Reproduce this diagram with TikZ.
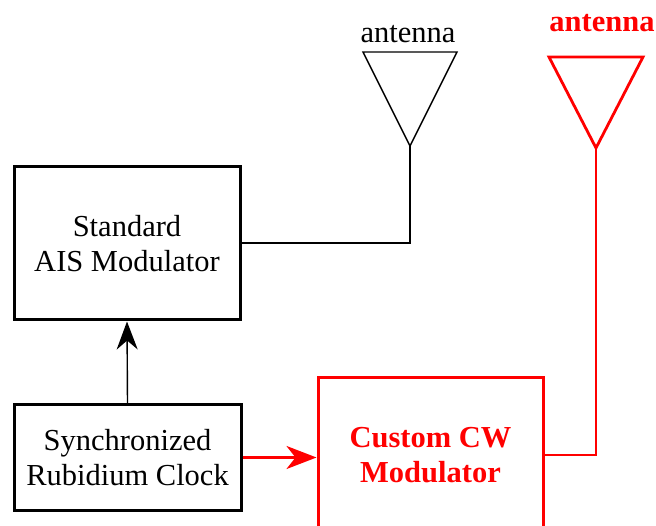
\documentclass[tikz,border=0pt]{standalone}
\usepackage{fontspec}
\setmainfont{Liberation Serif}
\usetikzlibrary{arrows.meta}
\definecolor{rd}{RGB}{255,0,0}
\begin{document}
\begin{tikzpicture}[x=1pt,y=-1pt,
  txt/.style={font=\fontsize{30.5}{35}\selectfont, align=center},
  blk/.style={txt, draw=black, line width=3pt, inner sep=0pt},
  redblk/.style={txt, draw=rd, text=rd, line width=3pt, inner sep=0pt, font=\fontsize{30.5}{35}\selectfont\bfseries},
  thinline/.style={draw=black, line width=1.4pt},
  redline/.style={draw=rd, line width=2.8pt},
  antlabel/.style={txt, anchor=base, inner sep=0pt}]
\useasboundingbox (0,0) rectangle (656,526);
\clip (0,0) rectangle (656,526);
\fill[white] (0,0) rectangle (656,526);

\node[blk, minimum width=226pt, minimum height=153pt] (ais) at (127,243.5) {Standard\\AIS Modulator};
\node[blk, minimum width=227pt, minimum height=105pt] (clk) at (127.5,457.5) {Synchronized\\Rubidium Clock};
\node[redblk, minimum width=225pt, minimum height=154pt] (cw) at (430.5,455) {Custom CW\\Modulator};

% black antenna
\coordinate (a1l) at (363,52);
\coordinate (a1r) at (457,52);
\coordinate (a1t) at (410,146);
\draw[thinline, line join=miter] (a1l) -- (a1r) -- (a1t) -- cycle;
\node[antlabel] (a1lab) at (408,43) {antenna};
\coordinate (a1c) at (410,243);
\draw[thinline] (ais.east |- a1c) -- (a1c) -- (a1t);

% red antenna
\coordinate (a2l) at (549,57);
\coordinate (a2r) at (643,57);
\coordinate (a2t) at (596,148);
\draw[redline, line join=miter] (a2l) -- (a2r) -- (a2t) -- cycle;
\node[antlabel, text=rd, font=\fontsize{30.5}{35}\selectfont\bfseries] (a2lab) at (602,32) {antenna};
\coordinate (a2c) at (596,455);
\draw[redline] (cw.east |- a2c) -- (a2c) -- (a2t);

% arrows
\draw[thinline, -{Stealth[length=28pt,width=21pt,inset=9pt]}] (clk.north) -- (ais.south);
\draw[redline, -{Stealth[length=30pt,width=23pt,inset=9pt]}] (clk.east) -- (cw.west |- clk.east);
\end{tikzpicture}
\end{document}
